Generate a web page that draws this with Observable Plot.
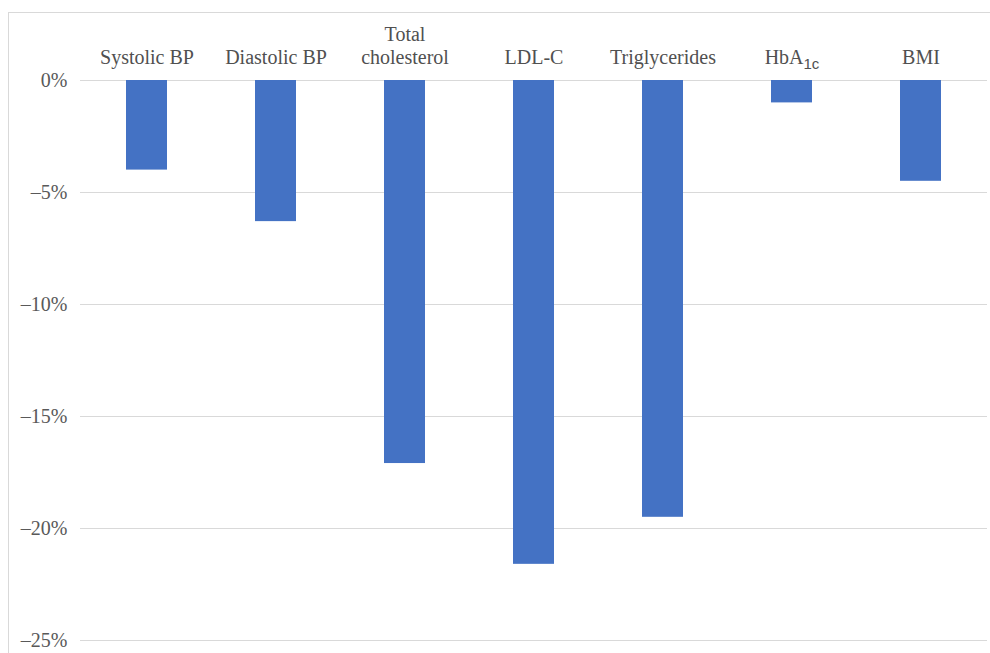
<!DOCTYPE html>
<html>
<head>
<meta charset="utf-8">
<script src="https://cdn.jsdelivr.net/npm/d3@7"></script>
<script src="https://cdn.jsdelivr.net/npm/@observablehq/plot@0.6"></script>
<style>
  html, body { margin: 0; padding: 0; background: #fff; overflow: hidden; }
  #wrap { position: relative; width: 990px; height: 653px; }
  #border { position: absolute; left: 8px; top: 12px; width: 1000px; height: 700px;
            border: 1px solid #d9d9d9; box-sizing: border-box; pointer-events: none; }
  #chart { position: absolute; left: 0; top: 0; }
</style>
</head>
<body>
<div id="wrap"><div id="border"></div><div id="chart"></div></div>
<script>
// Percentage change per risk factor
const categories = ["Systolic BP", "Diastolic BP", "Total cholesterol", "LDL-C", "Triglycerides", "HbA1c", "BMI"];
const changes = [-4.0, -6.3, -17.1, -21.6, -19.5, -1.0, -4.5];
const yTicks = [0, -5, -10, -15, -20, -25];

const data = categories.map((category, i) => ({category, change: changes[i]}));
const labelText = (c) => (c === "Total cholesterol" ? "Total\ncholesterol" : c);
const pct = (d) => (d === 0 ? "0%" : "\u2013" + Math.abs(d) + "%");
const serif = "Liberation Serif, Times New Roman, serif";

const chart = Plot.plot({
  width: 990,
  height: 653,
  marginLeft: 80,
  marginRight: 3,
  marginTop: 80,
  marginBottom: 13,
  style: "font-family: 'Liberation Serif', 'Times New Roman', serif; font-size: 20px; color: #595959; background: transparent;",
  x: {domain: categories, paddingInner: 0.683, paddingOuter: 0.348, axis: null},
  y: {domain: [-25, 0], label: null},
  marks: [
    Plot.gridY(yTicks, {stroke: "#d9d9d9", strokeOpacity: 1, strokeWidth: 1}),
    Plot.axisY(yTicks, {tickSize: 0, tickPadding: 13, tickFormat: pct, fontSize: 20, fontFamily: serif, fill: "#595959", label: null}),
    Plot.barY(data, {x: "category", y: "change", fill: "#4472C4"}),
    Plot.text(data, {
      x: "category",
      y: () => 0,
      text: (d) => labelText(d.category),
      lineAnchor: "bottom",
      lineHeight: 1.13,
      dy: -17,
      fontSize: 20,
      fontFamily: serif,
      fill: "#505050"
    })
  ]
});

// HbA1c: set "1c" as a subscript
d3.select(chart).selectAll("text, tspan")
  .filter(function () { return this.textContent === "HbA1c" && this.children.length === 0; })
  .each(function () {
    const node = d3.select(this);
    node.text("HbA");
    node.append("tspan")
      .attr("font-family", "'Liberation Sans', Arial, sans-serif")
      .attr("font-size", 15)
      .attr("dy", 5)
      .text("1c");
  });

document.getElementById("chart").appendChild(chart);
</script>
</body>
</html>
